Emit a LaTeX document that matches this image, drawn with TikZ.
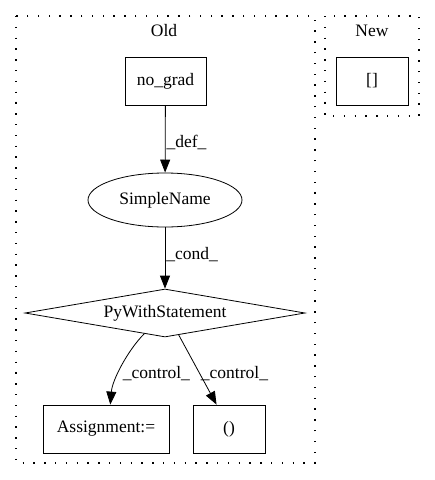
\documentclass[tikz,border=0pt]{standalone}
\usepackage{fontspec}
\setmainfont{Liberation Serif}
\usepackage{tikz}
\usetikzlibrary{arrows.meta,shapes.geometric}

\begin{document}
\begin{tikzpicture}[x=1pt, y=-1pt, line width=0.8pt,
                    every node/.style={font=\fontsize{17.5}{20}\selectfont},
                    box/.style={draw, rectangle, inner sep=0pt, minimum height=48pt},
                    cluster/.style={line width=1.1pt, dash pattern=on 1.4pt off 9.4pt},
                    edge/.style={-{Triangle[length=13pt, width=10pt]}},
                    elabel/.style={right, inner sep=1pt}]
                      \useasboundingbox (0,0) rectangle (435,480);
                      % clusters
                      \draw[cluster] (16,16) rectangle (315,463);
                      \draw[cluster] (325,16) rectangle (419,116);
                      \node (oldtitle) at (164,31) {Old};
                      \node (newtitle) at (372,31) {New};
                      % nodes
                      \node[box, minimum width=81pt] (nograd) at (165.5,81) {no\_grad};
                      \node[box, minimum width=72pt] (brackets) at (372,81) {[]};
                      \node[draw, ellipse, inner sep=0pt, minimum width=154pt, 
                      minimum height=54pt] (simplename) at (165,200) {SimpleName};
                      \node[draw, diamond, aspect=5.8, inner sep=0pt, minimum width=280pt,
                      minimum height=48pt] (withstmt) at (165,313) {PyWithStatement};
                      \node[box, minimum width=126pt] (assign) at (106,429) {Assignment:=};
                      \node[box, minimum width=72pt] (parens) at (229,429) {()};
                      % edges
                      \draw[edge] (nograd) -- (simplename) 
                      node[elabel, pos=0.55] {\_def\_};
                      \draw[edge] (simplename) -- (withstmt) 
                      node[elabel, pos=0.45] {\_cond\_};
                      \draw[edge] (withstmt.225) .. controls +(-16,16) and +(2,-25) .. (assign.80)
                      node[elabel, pos=0.6, xshift=3pt] {\_control\_};
                      \draw[edge] (withstmt.302) -- (parens.117) 
                      node[elabel, pos=0.55] {\_control\_};
                  \end{tikzpicture}
\end{document}
